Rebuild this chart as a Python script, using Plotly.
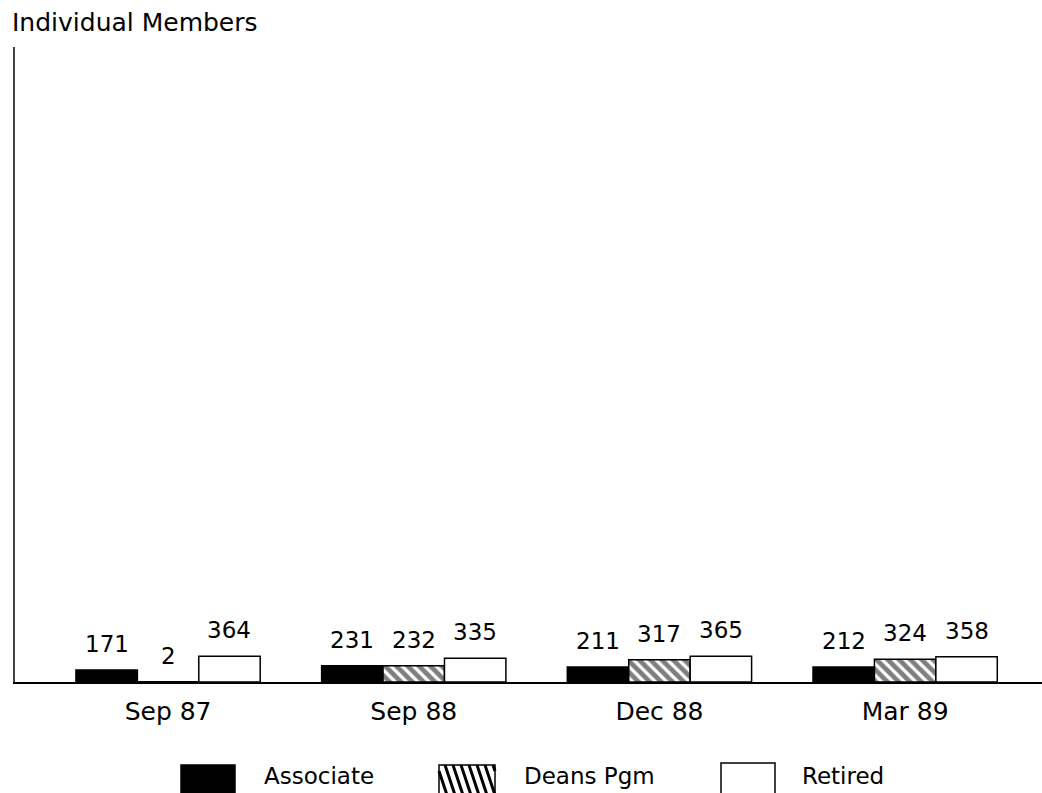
import plotly.graph_objects as go

categories = ["Sep 87", "Sep 88", "Dec 88", "Mar 89"]
associate = [171, 231, 211, 212]
deans_pgm = [2, 232, 317, 324]
retired = [364, 335, 365, 358]
series_names = ["Associate", "Deans Pgm", "Retired"]

W, H = 1042, 793
L, R, T, B = 15, 0, 47, 111
PW, PH = W - L - R, H - T - B
FONT = "DejaVu Sans"
BARGAP = 0.25

def px_x(px):
    return (px - L) / PW

def px_y(py):
    return (H - B - py) / PH

xs = list(range(len(categories)))
fig = go.Figure()
fig.add_trace(go.Bar(x=xs, y=associate, name=series_names[0],
                     marker=dict(color="black", line=dict(color="black", width=1.5))))
fig.add_trace(go.Bar(x=xs, y=deans_pgm, name=series_names[1],
                     marker=dict(color="white", line=dict(color="black", width=1.5),
                                 pattern=dict(shape="\\", fgcolor="black", bgcolor="white",
                                              size=8, solidity=0.6))))
fig.add_trace(go.Bar(x=xs, y=retired, name=series_names[2],
                     marker=dict(color="white", line=dict(color="black", width=1.5))))

# value labels
bw = (1 - BARGAP) / 3
for k, vals in enumerate([associate, deans_pgm, retired]):
    for i, v in enumerate(vals):
        fig.add_annotation(x=i + (k - 1) * bw, y=v, text=str(v), showarrow=False,
                           xref="x", yref="y", yanchor="bottom", yshift=11,
                           font=dict(family=FONT, size=23, color="black"))

# custom legend
shapes = []
boxes = [(181, 235, 765, 795), (439, 495, 765, 795), (721, 775, 763, 795)]
fills = ["black", "white", "white"]
text_x = [262, 522, 800]
for (x0, x1, y0, y1), fc, tx, nm in zip(boxes, fills, text_x, series_names):
    shapes.append(dict(type="rect", xref="paper", yref="paper",
                       x0=px_x(x0), x1=px_x(x1), y0=px_y(y1), y1=px_y(y0),
                       fillcolor=fc, line=dict(color="black", width=1.5), layer="above"))
    fig.add_annotation(x=px_x(tx), y=px_y(776), xref="paper", yref="paper", text=nm,
                       showarrow=False, xanchor="left", yanchor="middle",
                       font=dict(family=FONT, size=23, color="black"))
# hatch lines in Deans legend box
x0, x1, y0, y1 = boxes[1]
step = 8
dx = 10


def clip(px, py, qx, qy):
    t0, t1 = 0.0, 1.0
    ddx = qx - px
    for p, q in ((-ddx, px - x0), (ddx, x1 - px)):
        if p == 0:
            if q < 0:
                return None
            continue
        r = q / p
        if p < 0:
            t0 = max(t0, r)
        else:
            t1 = min(t1, r)
    if t0 >= t1:
        return None
    return (px + t0 * ddx, py + t0 * (qy - py), px + t1 * ddx, py + t1 * (qy - py))


path = ""
xs_start = x0 - dx
while xs_start < x1:
    seg = clip(xs_start, y0, xs_start + dx, y1)
    if seg:
        path += "M%.5f,%.5f L%.5f,%.5f " % (px_x(seg[0]), px_y(seg[1]), px_x(seg[2]), px_y(seg[3]))
    xs_start += step
shapes.append(dict(type="path", xref="paper", yref="paper", path=path,
                   line=dict(color="black", width=3), layer="above"))

fig.update_layout(
    width=W, height=H,
    margin=dict(l=L, r=R, t=T, b=B),
    paper_bgcolor="white", plot_bgcolor="white",
    barmode="group", bargap=BARGAP, bargroupgap=0,
    showlegend=False,
    shapes=shapes,
    font=dict(family=FONT, color="black"),
    title=dict(text="Individual Members", xref="container", yref="container",
               x=12 / W, y=1 - 22 / H, xanchor="left", yanchor="middle",
               font=dict(family=FONT, size=25, color="black")),
)
fig.update_xaxes(range=[-0.623, 3.557], tickvals=xs, ticktext=categories,
                 showline=True, linecolor="black", linewidth=2, ticks="",
                 ticklabelstandoff=6,
                 showgrid=False, zeroline=False,
                 tickfont=dict(family=FONT, size=25, color="black"))
fig.update_yaxes(range=[0, 9000], showline=True, linecolor="#444", linewidth=1.5,
                 showticklabels=False, ticks="", showgrid=False, zeroline=False)

fig.write_html("out.html", config={"displayModeBar": False},
               post_script="document.body.style.margin='0';document.body.style.overflow='hidden';")
